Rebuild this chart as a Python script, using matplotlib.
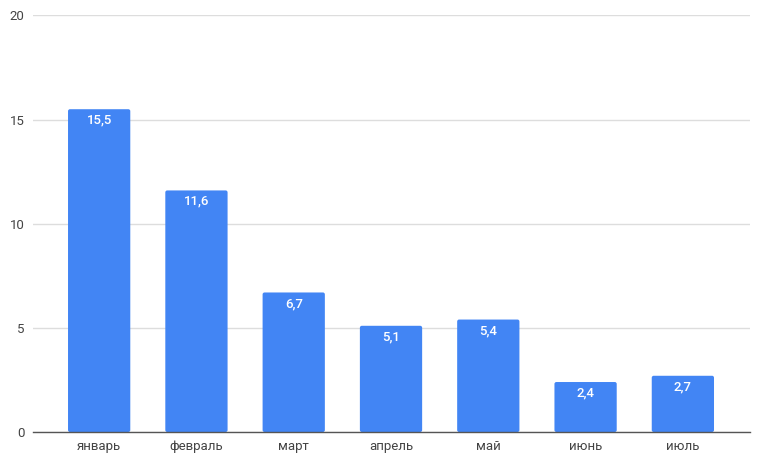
import matplotlib
matplotlib.use("Agg")
import matplotlib.pyplot as plt
from matplotlib.patches import FancyBboxPatch
from matplotlib.transforms import offset_copy

categories = ["январь", "февраль", "март", "апрель", "май", "июнь", "июль"]
values = [15.5, 11.6, 6.7, 5.1, 5.4, 2.4, 2.7]
labels = ["15,5", "11,6", "6,7", "5,1", "5,4", "2,4", "2,7"]
yticks = [0, 5, 10, 15, 20]

plt.rcParams['font.family'] = ['Roboto', 'DejaVu Sans']

fig = plt.figure(figsize=(7.58, 4.61), dpi=100)
ax = fig.add_axes([33/758, 1-432/461, (750-33)/758, (432-15.5)/461])

x = list(range(len(categories)))
bars = ax.bar(x, values, width=0.64, color="#4285F4", zorder=3)

ax.set_xlim(-0.68, 6.69)
ax.set_ylim(0, 20)

# rounded corners
for b in bars:
    b.set_visible(False)
    fb = FancyBboxPatch((b.get_x(), b.get_y()), b.get_width(), b.get_height(),
                        boxstyle="round,pad=0,rounding_size=0.02",
                        mutation_aspect=4.68, facecolor="#4285F4",
                        edgecolor="none", zorder=3)
    ax.add_patch(fb)

for b, lab in zip(bars, labels):
    cx = b.get_x() + b.get_width()/2
    tr = offset_copy(ax.transData, fig=fig, x=0, y=-11, units='dots')
    ax.text(cx, b.get_height(), lab, transform=tr, ha='center', va='center',
            color='white', fontsize=9.5, fontweight='medium', zorder=4)

ax.set_yticks(yticks)
ax.set_yticklabels([str(t) for t in yticks])
ax.set_xticks(x)
ax.set_xticklabels(categories)
ax.tick_params(axis='both', length=0, labelsize=9.5, colors='#444444')
ax.tick_params(axis='y', pad=6)
ax.tick_params(axis='x', pad=6)

ax.grid(axis='y', color='#dddddd', linewidth=1, zorder=0)
for s in ['top', 'right', 'left']:
    ax.spines[s].set_visible(False)
ax.spines['bottom'].set_color('#555555')
ax.spines['bottom'].set_linewidth(1)
ax.spines['bottom'].set_zorder(5)

fig.savefig("out.png", dpi=100)
